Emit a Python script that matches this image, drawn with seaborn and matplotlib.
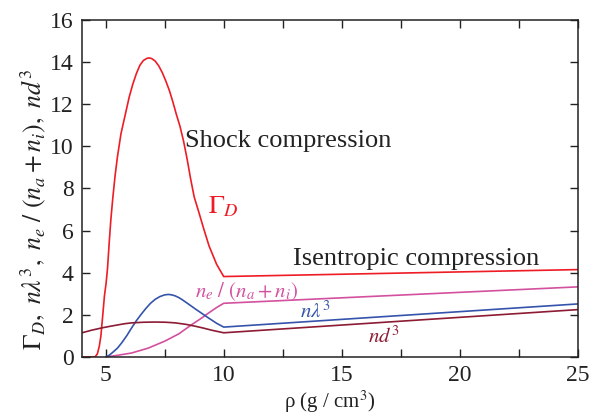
import matplotlib
matplotlib.use("Agg")
import matplotlib.pyplot as plt
import seaborn as sns
import pandas as pd
from matplotlib.ticker import MultipleLocator

# Density (g/cm^3) and values for each quantity
rho_gamma = [4.0, 4.55, 4.65, 4.73, 4.8, 4.88, 4.95, 5.02, 5.08, 5.15, 5.22, 5.3, 5.4,
             5.5, 5.65, 5.83, 6.0, 6.15, 6.3, 6.45, 6.6, 6.75, 6.85, 6.95, 7.1, 7.25,
             7.4, 7.55, 7.7, 7.85, 8.0, 8.15, 8.3, 8.45, 8.6, 8.75, 8.95, 9.15, 9.38,
             9.7, 10.0, 25.0]
gamma_d = [0.0, 0.0, 0.15, 0.5, 1.0, 2.0, 2.9, 3.5, 4.2, 5.4, 6.5, 7.5, 8.6,
           9.5, 10.6, 11.5, 12.35, 12.95, 13.45, 13.85, 14.08, 14.18, 14.2, 14.17, 14.05, 13.82,
           13.5, 13.1, 12.65, 12.1, 11.5, 10.95, 10.25, 9.4, 8.45, 7.6, 6.86, 6.1, 5.27,
           4.4, 3.82, 4.15]

rho_ion = [5.0, 5.5, 6.1, 6.8, 7.5, 8.1, 8.65, 9.0, 9.36, 9.7, 10.0, 25.0]
ion_frac = [0.0, 0.08, 0.19, 0.42, 0.75, 1.1, 1.54, 1.8, 2.09, 2.35, 2.55, 3.33]

rho_lam = [5.0, 5.15, 5.3, 5.5, 5.68, 5.9, 6.1, 6.3, 6.5, 6.7, 6.9, 7.1, 7.3, 7.5,
           7.66, 7.8, 7.95, 8.1, 8.23, 8.5, 8.8, 9.1, 9.36, 9.7, 10.0, 25.0]
n_lambda3 = [0.0, 0.08, 0.22, 0.42, 0.67, 1.02, 1.38, 1.72, 2.02, 2.3, 2.55, 2.74, 2.87, 2.95,
             2.97, 2.95, 2.9, 2.82, 2.73, 2.52, 2.28, 2.05, 1.85, 1.6, 1.42, 2.52]

rho_d = [4.0, 4.4, 4.83, 5.2, 5.5, 5.8, 6.1, 6.6, 7.1, 7.55, 7.95, 8.4, 8.8, 9.15, 9.5,
         10.0, 25.0]
n_d3 = [1.15, 1.27, 1.38, 1.46, 1.52, 1.58, 1.62, 1.65, 1.66, 1.65, 1.62, 1.55, 1.46, 1.37,
        1.27, 1.15, 2.25]

x_ticks = [5, 10, 15, 20, 25]
y_ticks = [0, 2, 4, 6, 8, 10, 12, 14, 16]

sns.set_theme(style="ticks")
plt.rcParams["font.family"] = ["Liberation Serif", "DejaVu Serif"]
plt.rcParams["mathtext.fontset"] = "stix"

fig = plt.figure(figsize=(6.0, 4.15), dpi=100)
ax = fig.add_axes([82 / 600, 58 / 415, 496 / 600, 337 / 415])

series = [
    (rho_gamma, gamma_d, "#ee1c25"),
    (rho_ion, ion_frac, "#d2509e"),
    (rho_lam, n_lambda3, "#3553ab"),
    (rho_d, n_d3, "#8c1b33"),
]
for xs, ys, col in series:
    df = pd.DataFrame({"rho": xs, "val": ys})
    sns.lineplot(data=df, x="rho", y="val", ax=ax, color=col, lw=1.2,
                 sort=False, estimator=None)

ax.set_xlim(4, 25)
ax.set_ylim(0, 16)
ax.set_xticks(x_ticks)
ax.set_yticks(y_ticks)
ax.xaxis.set_minor_locator(MultipleLocator(2.5))
ax.tick_params(axis="both", which="both", direction="in", top=True, right=True,
               length=6, width=1.0, color="#222222", labelsize=17, pad=6,
               labelcolor="#222222")
for sp in ax.spines.values():
    sp.set_linewidth(1.1)
    sp.set_color("#222222")

ax.set_xlabel(r"ρ (g / cm$^3$)", fontsize=15, color="#222222")
ax.xaxis.set_label_coords(0.5, -0.094)
ax.set_ylabel(r"$\Gamma_D,\ n\lambda^3,\ n_e\ /\ (n_a + n_i),\ nd^3$",
              fontsize=18.5, color="#222222")
ax.yaxis.set_label_coords(-0.068, 0.44)

ax.text(8.36, 9.97, "Shock compression", fontsize=19, color="#222222")
ax.text(12.93, 4.37, "Isentropic compression", fontsize=19, color="#222222")
ax.text(9.33, 6.84, r"$\Gamma_D$", fontsize=19, color="#ee1c25")
ax.text(8.78, 2.85, r"$n_e\ /\ (n_a + n_i)$", fontsize=15, color="#d2509e")
ax.text(13.23, 1.85, r"$n\lambda^3$", fontsize=15, color="#3553ab")
ax.text(16.1, 0.66, r"$nd^3$", fontsize=15, color="#8c1b33")

fig.savefig("out.png", dpi=100)
